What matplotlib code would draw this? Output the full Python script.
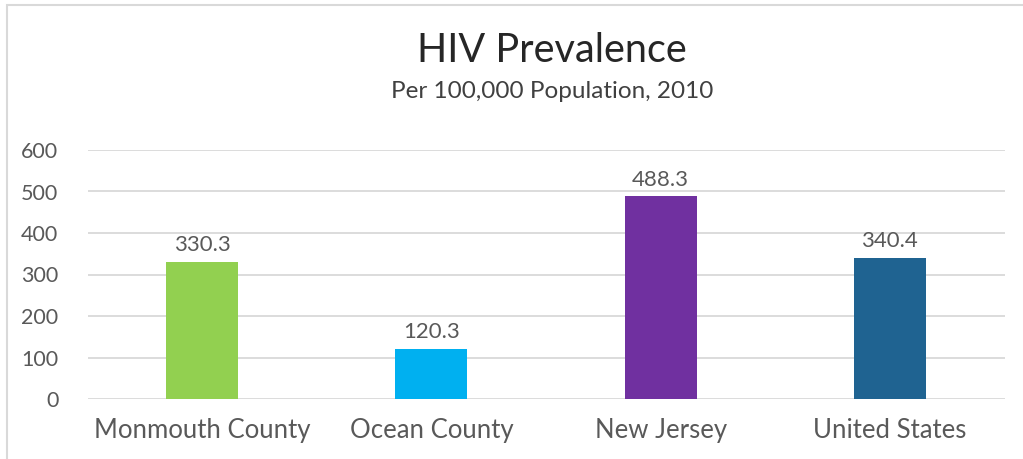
import numpy as np
import matplotlib as mpl
mpl.use('Agg')
import matplotlib.pyplot as plt
from matplotlib.patches import Rectangle

categories = ["Monmouth County", "Ocean County", "New Jersey", "United States"]
values = [330.3, 120.3, 488.3, 340.4]
bar_colors = ["#92D050", "#00B0F0", "#7030A0", "#1F6391"]
yticks = [0, 100, 200, 300, 400, 500, 600]

plt.rcParams['font.family'] = ['Lato', 'DejaVu Sans']

fig = plt.figure(figsize=(10.23, 4.59), dpi=100)
W, H = 1023, 459

# chart border (only left and top are visible in the crop)
fig.patches.append(Rectangle((7 / W, -0.1), 1.2, (459 - 5) / H + 0.1,
                             transform=fig.transFigure, fill=False,
                             edgecolor="#D9D9D9", linewidth=1.5))

ax = fig.add_axes([87.5 / W, 1 - 399 / H, 917 / W, 249 / H])
x = np.arange(len(categories))
bars = ax.bar(x, values, width=0.315, color=bar_colors, zorder=3)
for xi, v in zip(x, values):
    ax.text(xi, v + 16, "%.1f" % v, ha="center", va="bottom",
            fontsize=16, color="#595959", zorder=4)

ax.set_xlim(-0.5, len(categories) - 0.5)
ax.set_ylim(0, 600)
ax.set_yticks(yticks)
ax.yaxis.grid(True, color="#D9D9D9", linewidth=1.3, zorder=0)
ax.set_xticks(x)
ax.set_xticklabels(categories)
ax.tick_params(axis="both", length=0, colors="#595959", labelsize=15.5)
ax.tick_params(axis="x", pad=14, labelsize=18.5)
ax.tick_params(axis="y", pad=21)
for s in ax.spines.values():
    s.set_visible(False)

fig.text(552 / W, 1 - 50 / H, "HIV Prevalence", ha="center", va="center",
         fontsize=28.5, color="#262626")
fig.text(552 / W, 1 - 92 / H, "Per 100,000 Population, 2010", ha="center",
         va="center", fontsize=17.5, color="#404040")

plt.savefig("out.png", dpi=100)
plt.close()
